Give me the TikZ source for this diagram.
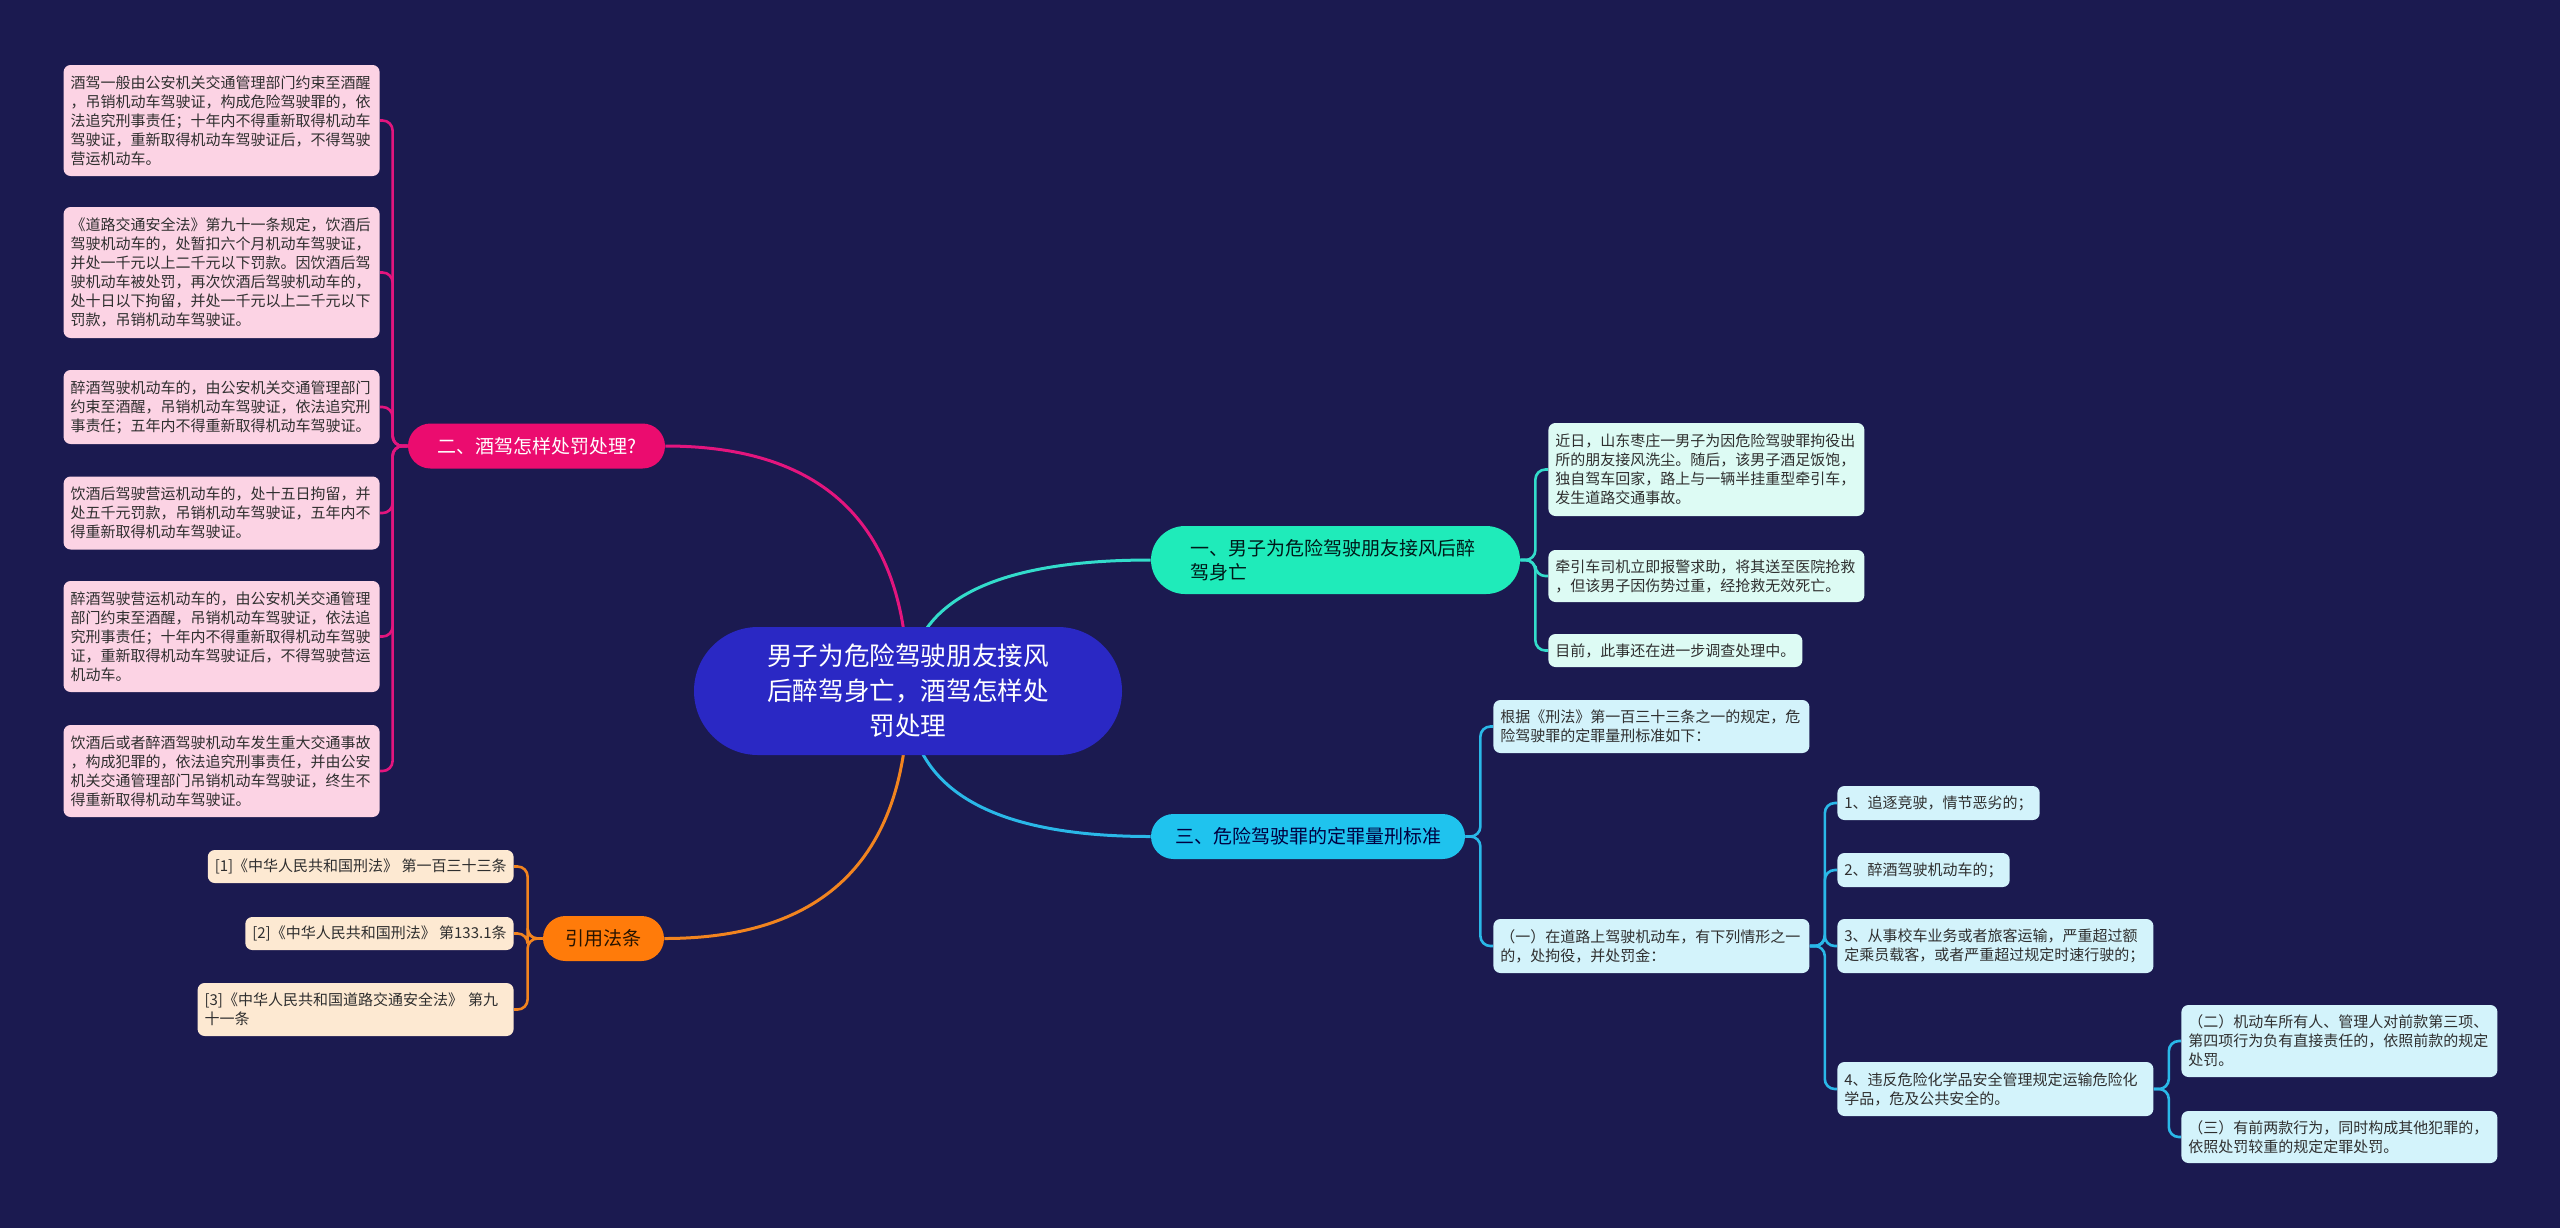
\documentclass[tikz,border=0pt]{standalone}
\usepackage{fontspec}
\setmainfont{Noto Sans CJK SC}
\usetikzlibrary{calc}
\pgfdeclarelayer{back}
\pgfdeclarelayer{lines}
\pgfsetlayers{back,lines,main}
\definecolor{bgc}{HTML}{1B1A50}
\definecolor{ctrfill}{HTML}{2A28C4}
\definecolor{magline}{HTML}{E3157E}
\definecolor{magfill}{HTML}{EB0C6F}
\definecolor{tealline}{HTML}{33DCCB}
\definecolor{tealfill}{HTML}{1FEBBA}
\definecolor{cyanline}{HTML}{2AB8E8}
\definecolor{cyanfill}{HTML}{1FC3EE}
\definecolor{orgline}{HTML}{F2841F}
\definecolor{orgfill}{HTML}{FF7B0A}
\definecolor{pinkleaf}{HTML}{FCD3E4}
\definecolor{mintleaf}{HTML}{DDFBF4}
\definecolor{skyleaf}{HTML}{D3F3FB}
\definecolor{peachleaf}{HTML}{FDE9D2}
\definecolor{leaftext}{HTML}{2F2F2F}
\tikzset{
  leaf/.style={rectangle, rounded corners=3.5pt, inner xsep=3.5pt, inner ysep=3pt,
    font=\fontsize{7.5pt}{9.5pt}\selectfont, text=leaftext},
  wleaf/.style={leaf, text width=151pt, align=left},
  branch/.style={rectangle, inner sep=0pt, minimum height=22.5pt, rounded corners=11.25pt,
    font=\fontsize{9.5pt}{12pt}\selectfont},
  conn/.style={line width=1.3pt, rounded corners=5pt},
}
\begin{document}
\begin{tikzpicture}[x=0.5pt,y=-0.5pt]
\useasboundingbox (0,0) rectangle (2560,1228);
\begin{pgfonlayer}{back}
\fill[bgc] (0,0) rectangle (2560,1228);
\end{pgfonlayer}

% central
\node[rectangle, fill=ctrfill, text=white, minimum width=214pt, minimum height=64pt,
  rounded corners=32pt, text width=142pt, align=center, inner sep=0pt,
  font=\fontsize{12.8pt}{17.5pt}\selectfont] (ctr) at (908,691)
  {男子为危险驾驶朋友接风\\后醉驾身亡，酒驾怎样处\\罚处理};

% branches
\node[branch, fill=tealfill, text=black!80!teal, minimum width=184.5pt, minimum height=34pt,
  rounded corners=17pt, text width=145pt, align=left] (b1) at (1335.5,560)
  {一、男子为危险驾驶朋友接风后醉\\驾身亡};
\node[branch, fill=magfill, text=white, minimum width=128.5pt] (b2) at (536.5,446)
  {二、酒驾怎样处罚处理?};
\node[branch, fill=cyanfill, text=black!75!blue, minimum width=157pt] (b3) at (1308,836.5)
  {三、危险驾驶罪的定罪量刑标准};
\node[branch, fill=orgfill, text=black!85!orange, minimum width=60.5pt] (b4) at (603.5,938.5)
  {引用法条};

% branch 1 children
\node[wleaf, fill=mintleaf, anchor=west, minimum height=46.5pt] (c1) at (1548,469.5)
  {近日，山东枣庄一男子为因危险驾驶罪拘役出\\所的朋友接风洗尘。随后，该男子酒足饭饱，\\独自驾车回家，路上与一辆半挂重型牵引车，\\发生道路交通事故。};
\node[wleaf, fill=mintleaf, anchor=west, minimum height=26pt] (c2) at (1548,576)
  {牵引车司机立即报警求助，将其送至医院抢救\\，但该男子因伤势过重，经抢救无效死亡。};
\node[leaf, fill=mintleaf, anchor=west, minimum height=16.5pt] (c3) at (1548,650.5)
  {目前，此事还在进一步调查处理中。};

% branch 2 children
\node[wleaf, fill=pinkleaf, anchor=east, minimum height=55.5pt] (p1) at (380,120.5)
  {酒驾一般由公安机关交通管理部门约束至酒醒\\，吊销机动车驾驶证，构成危险驾驶罪的，依\\法追究刑事责任；十年内不得重新取得机动车\\驾驶证，重新取得机动车驾驶证后，不得驾驶\\营运机动车。};
\node[wleaf, fill=pinkleaf, anchor=east, minimum height=65.5pt] (p2) at (380,272.5)
  {《道路交通安全法》第九十一条规定，饮酒后\\驾驶机动车的，处暂扣六个月机动车驾驶证，\\并处一千元以上二千元以下罚款。因饮酒后驾\\驶机动车被处罚，再次饮酒后驾驶机动车的，\\处十日以下拘留，并处一千元以上二千元以下\\罚款，吊销机动车驾驶证。};
\node[wleaf, fill=pinkleaf, anchor=east, minimum height=37pt] (p3) at (380,407)
  {醉酒驾驶机动车的，由公安机关交通管理部门\\约束至酒醒，吊销机动车驾驶证，依法追究刑\\事责任；五年内不得重新取得机动车驾驶证。};
\node[wleaf, fill=pinkleaf, anchor=east, minimum height=36.5pt] (p4) at (380,513)
  {饮酒后驾驶营运机动车的，处十五日拘留，并\\处五千元罚款，吊销机动车驾驶证，五年内不\\得重新取得机动车驾驶证。};
\node[wleaf, fill=pinkleaf, anchor=east, minimum height=55.5pt] (p5) at (380,636.5)
  {醉酒驾驶营运机动车的，由公安机关交通管理\\部门约束至酒醒，吊销机动车驾驶证，依法追\\究刑事责任；十年内不得重新取得机动车驾驶\\证，重新取得机动车驾驶证后，不得驾驶营运\\机动车。};
\node[wleaf, fill=pinkleaf, anchor=east, minimum height=46pt] (p6) at (380,771)
  {饮酒后或者醉酒驾驶机动车发生重大交通事故\\，构成犯罪的，依法追究刑事责任，并由公安\\机关交通管理部门吊销机动车驾驶证，终生不\\得重新取得机动车驾驶证。};

% branch 3 children
\node[wleaf, fill=skyleaf, anchor=west, minimum height=26.5pt] (d1) at (1493,726.5)
  {根据《刑法》第一百三十三条之一的规定，危\\险驾驶罪的定罪量刑标准如下：};
\node[wleaf, fill=skyleaf, anchor=west, minimum height=27pt] (d2) at (1493,946)
  {（一）在道路上驾驶机动车，有下列情形之一\\的，处拘役，并处罚金：};
\node[leaf, fill=skyleaf, anchor=west, minimum height=17pt] (e1) at (1837,803)
  {1、追逐竞驶，情节恶劣的；};
\node[leaf, fill=skyleaf, anchor=west, minimum height=17pt] (e2) at (1837,870)
  {2、醉酒驾驶机动车的；};
\node[wleaf, fill=skyleaf, anchor=west, minimum height=27pt] (e3) at (1837,946)
  {3、从事校车业务或者旅客运输，严重超过额\\定乘员载客，或者严重超过规定时速行驶的；};
\node[wleaf, fill=skyleaf, anchor=west, minimum height=27pt] (e4) at (1837,1089)
  {4、违反危险化学品安全管理规定运输危险化\\学品，危及公共安全的。};
\node[wleaf, fill=skyleaf, anchor=west, minimum height=36pt] (f1) at (2181,1041)
  {（二）机动车所有人、管理人对前款第三项、\\第四项行为负有直接责任的，依照前款的规定\\处罚。};
\node[wleaf, fill=skyleaf, anchor=west, minimum height=26pt] (f2) at (2181,1137)
  {（三）有前两款行为，同时构成其他犯罪的，\\依照处罚较重的规定定罪处罚。};

% branch 4 children
\node[leaf, fill=peachleaf, anchor=east, minimum height=16.5pt] (g1) at (514,866.5)
  {[1]《中华人民共和国刑法》 第一百三十三条};
\node[leaf, fill=peachleaf, anchor=east, minimum height=16.5pt] (g2) at (514,933.5)
  {[2]《中华人民共和国刑法》 第133.1条};
\node[wleaf, fill=peachleaf, anchor=east, minimum height=26.5pt] (g3) at (514,1009.5)
  {[3]《中华人民共和国道路交通安全法》 第九\\十一条};

% connectors
\coordinate (q1) at (ctr.center |- b1.west);
\coordinate (q2) at (ctr.center |- b2.east);
\coordinate (q3) at (ctr.center |- b3.west);
\coordinate (q4) at (ctr.center |- b4.east);
\begin{pgfonlayer}{lines}
\draw[line width=1.5pt, tealline] (ctr.center) .. controls ($(ctr.center)!2/3!(q1)$) and ($(b1.west)!2/3!(q1)$) .. (b1.west);
\draw[line width=1.5pt, magline] (ctr.center) .. controls ($(ctr.center)!2/3!(q2)$) and ($(b2.east)!2/3!(q2)$) .. (b2.east);
\draw[line width=1.5pt, cyanline] (ctr.center) .. controls ($(ctr.center)!2/3!(q3)$) and ($(b3.west)!2/3!(q3)$) .. (b3.west);
\draw[line width=1.5pt, orgline] (ctr.center) .. controls ($(ctr.center)!2/3!(q4)$) and ($(b4.east)!2/3!(q4)$) .. (b4.east);

\foreach \c in {c1,c2,c3} \draw[conn, tealline] (b1.east) -- ++(15,0) |- (\c.west);
\foreach \c in {p1,p2,p3,p4,p5,p6} \draw[conn, magline] (b2.west) -- ++(-15,0) |- (\c.east);
\foreach \c in {d1,d2} \draw[conn, cyanline] (b3.east) -- ++(15,0) |- (\c.west);
\foreach \c in {e1,e2,e3,e4} \draw[conn, cyanline] (d2.east) -- ++(15,0) |- (\c.west);
\foreach \c in {f1,f2} \draw[conn, cyanline] (e4.east) -- ++(15,0) |- (\c.west);
\foreach \c in {g1,g2,g3} \draw[conn, orgline] (b4.west) -- ++(-15,0) |- (\c.east);
\end{pgfonlayer}
\end{tikzpicture}
\end{document}
